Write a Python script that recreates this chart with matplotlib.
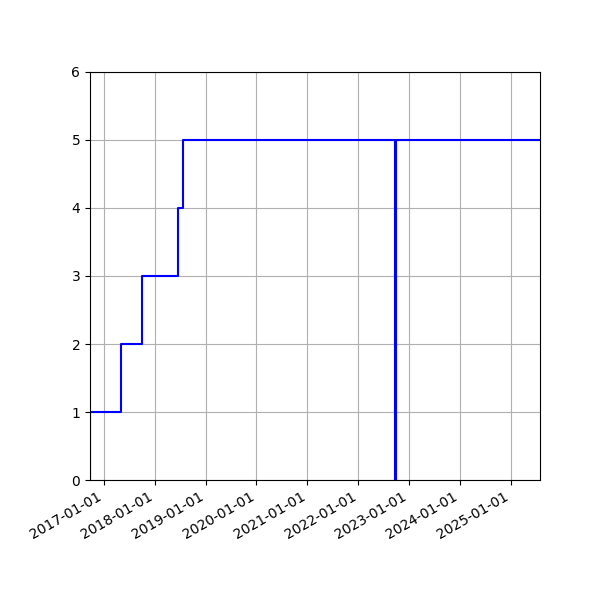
import matplotlib

matplotlib.use("Agg")
import matplotlib.pyplot as plt
import matplotlib.dates as mdates
import pandas as pd

# step points (value holds until next date)
dates = [
    "2016-09-24", "2016-09-25", "2017-05-04", "2017-10-04",
    "2018-06-14", "2018-07-25", "2022-09-24", "2022-09-26", "2025-07-27",
]
values = [0, 1, 2, 3, 4, 5, 0, 5, 5]

x = pd.to_datetime(dates)

fig = plt.figure(figsize=(6, 6), dpi=100)
ax = fig.add_axes([0.15, 0.2, 0.75, 0.68])
ax.plot(x, values, color="blue", drawstyle="steps-post", linewidth=1.5)
ax.set_xlim(x[0], x[-1])
ax.set_ylim(0, 6)
ax.xaxis.set_major_locator(mdates.YearLocator())
ax.xaxis.set_major_formatter(mdates.DateFormatter("%Y-%m-%d"))
ax.grid(True)
for label in ax.get_xticklabels():
    label.set_rotation(30)
    label.set_ha("right")

fig.savefig("out.png", dpi=100)
